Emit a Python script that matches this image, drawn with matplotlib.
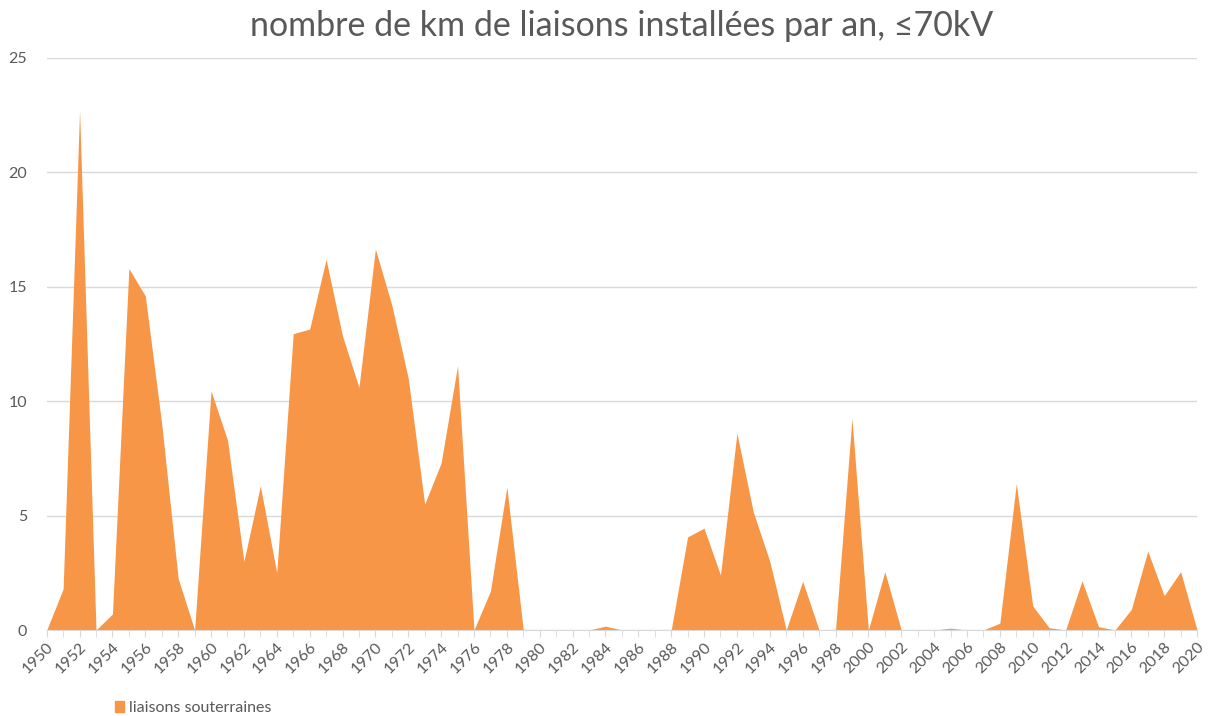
import numpy as np
import matplotlib
matplotlib.use("Agg")
import matplotlib.pyplot as plt
from matplotlib.patches import Patch

plt.rcParams['font.family'] = ['Lato', 'DejaVu Sans']

# km installés par an (liaisons souterraines), 1950-2020
years = list(range(1950, 2021))
km = [0, 1.8, 22.7, 0, 0.7, 15.8, 14.6, 9.0, 2.25, 0,
      10.45, 8.3, 3.0, 6.3, 2.5, 12.95, 13.15, 16.2, 12.85, 10.6,
      16.65, 14.2, 11.0, 5.5, 7.3, 11.55, 0, 1.7, 6.25, 0,
      0, 0, 0, 0, 0.17, 0, 0, 0, 0, 4.07,
      4.45, 2.4, 8.6, 5.15, 3.0, 0, 2.13, 0, 0, 9.25,
      0, 2.55, 0, 0, 0, 0.08, 0, 0, 0.3, 6.4,
      1.05, 0.1, 0, 2.15, 0.15, 0, 0.9, 3.45, 1.5, 2.55,
      0]

title = "nombre de km de liaisons installées par an, \u226470kV"
serie = "liaisons souterraines"

orange = '#F79646'
gris_txt = '#595959'
gris_grille = '#D9D9D9'

fig = plt.figure(figsize=(12.1, 7.16), dpi=100)
ax = fig.add_axes([0.0386, 0.1201, 0.9507, 0.799])

ax.fill_between(years, km, 0, color=orange, linewidth=0, zorder=2)

ax.set_xlim(1950, 2020)
ax.set_ylim(0, 25)
ax.set_yticks(range(0, 26, 5))
ax.grid(axis='y', color=gris_grille, linewidth=1, zorder=0)
ax.set_axisbelow(True)

ax.set_xticks(years, minor=True)
ax.set_xticks(range(1950, 2021, 2))
ax.set_xticklabels([str(y) for y in range(1950, 2021, 2)],
                   rotation=45, ha='right', va='top', rotation_mode='anchor')
ax.tick_params(axis='x', which='both', length=5, color=gris_grille,
               labelsize=11.5, labelcolor=gris_txt, pad=2)
ax.tick_params(axis='y', length=0, labelsize=11.5, labelcolor=gris_txt, pad=14)

for s in ['top', 'right', 'left']:
    ax.spines[s].set_visible(False)
ax.spines['bottom'].set_color(gris_grille)
ax.spines['bottom'].set_zorder(3)

fig.text(0.514, 0.963, title, ha='center', va='center',
         fontsize=24.5, color=gris_txt)

fig.legend(handles=[Patch(color=orange, label=serie)],
           loc='center left', bbox_to_anchor=(0.083, 0.011),
           frameon=False, fontsize=11.5, handlelength=0.6, handleheight=0.6,
           handletextpad=0.3, labelcolor=gris_txt)

fig.savefig('out.png', dpi=100)
